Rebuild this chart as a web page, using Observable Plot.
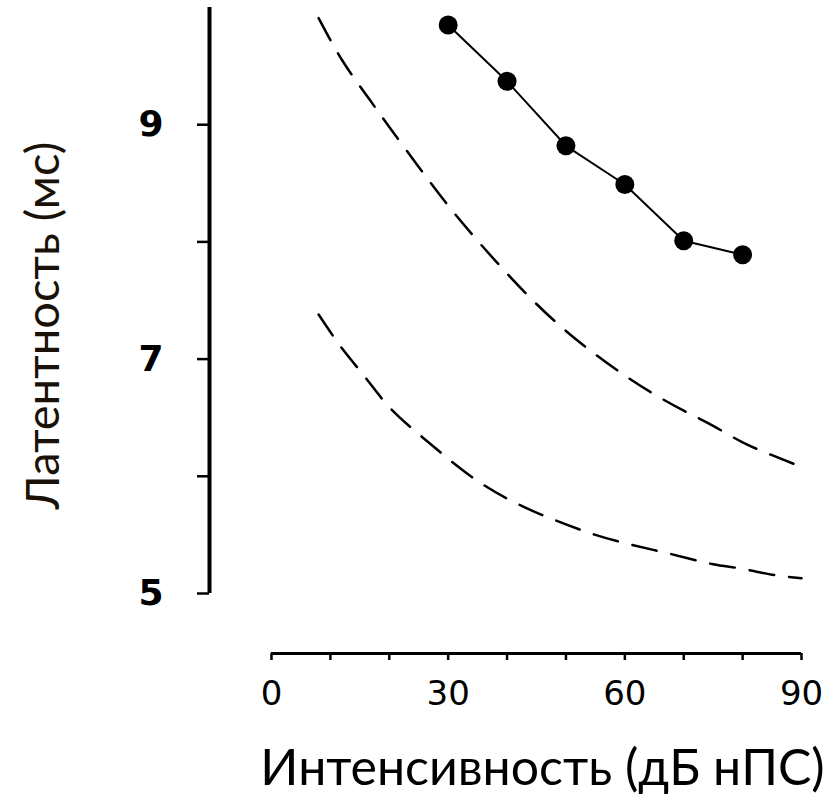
<!DOCTYPE html>
<html>
<head>
<meta charset="utf-8">
<script src="https://cdn.jsdelivr.net/npm/d3@7"></script>
<script src="https://cdn.jsdelivr.net/npm/@observablehq/plot@0.6"></script>
<style>
  html, body { margin: 0; padding: 0; background: #fff; }
</style>
</head>
<body>
<div id="chart"></div>
<script>
// Measured series (Интенсивность, дБ нПС → Латентность, мс)
const intensity = [30, 40, 50, 60, 70, 80];
const latency = [9.85, 9.37, 8.82, 8.49, 8.01, 7.89];

// Dashed reference curves
const curveX = [8, 12, 16, 20, 25, 30, 35, 40, 45, 50, 55, 60, 65, 70, 75, 80, 85, 90];
const upperCurve = [9.91, 9.55, 9.26, 8.98, 8.64, 8.31, 8.01, 7.73, 7.47, 7.24, 7.04, 6.86, 6.70, 6.56, 6.43, 6.29, 6.18, 6.08];
const lowerCurve = [7.38, 7.09, 6.84, 6.59, 6.36, 6.15, 5.96, 5.81, 5.69, 5.59, 5.50, 5.43, 5.37, 5.31, 5.25, 5.21, 5.16, 5.13];

// Axes
const xDomain = [0, 90];
const yDomain = [5, 10];
const xTicks = [0, 10, 20, 30, 40, 50, 60, 70, 80, 90];
const xTickLabels = [0, 30, 60, 90];
const yTicks = [5, 6, 7, 8, 9];
const yTickLabels = [5, 7, 9];
const xLabel = "Интенсивность (дБ нПС)";
const yLabel = "Латентность (мс)";

const measured = intensity.map((x, i) => ({x, y: latency[i]}));
const upper = curveX.map((x, i) => ({x, y: upperCurve[i]}));
const lower = curveX.map((x, i) => ({x, y: lowerCurve[i]}));

const chart = Plot.plot({
  width: 833,
  height: 796,
  marginLeft: 271,
  marginRight: 32,
  marginTop: 7,
  marginBottom: 203,
  x: {domain: xDomain},
  y: {domain: yDomain},
  style: {background: "#fff", color: "#000"},
  marks: [
    // y axis line + ticks (offset to the left of the data)
    Plot.ruleX([xDomain[0]], {y1: yDomain[0], y2: yDomain[1], dx: -62, strokeWidth: 4, stroke: "#000"}),
    Plot.axisY(yTicks, {
      tickSize: 12, dx: -62, tickPadding: 34, strokeWidth: 2.5,
      tickFormat: d => yTickLabels.includes(d) ? String(d) : "",
      fontSize: 36, fontWeight: "bold", fontFamily: "DejaVu Sans",
      label: null
    }),
    // x axis line + ticks (offset below the data)
    Plot.ruleY([yDomain[0]], {x1: xDomain[0], x2: xDomain[1], dy: 60, strokeWidth: 3, stroke: "#000"}),
    Plot.axisX(xTicks, {
      tickSize: 7, dy: 60, tickPadding: 20, strokeWidth: 2.5,
      tickFormat: d => xTickLabels.includes(d) ? String(d) : "",
      fontSize: 34, fontFamily: "DejaVu Sans",
      label: null
    }),
    // dashed curves
    Plot.line(upper, {x: "x", y: "y", stroke: "#000", strokeWidth: 2.5, strokeDasharray: "25,15", curve: "natural"}),
    Plot.line(lower, {x: "x", y: "y", stroke: "#000", strokeWidth: 2.5, strokeDasharray: "25,15", curve: "natural"}),
    // measured series
    Plot.line(measured, {x: "x", y: "y", stroke: "#000", strokeWidth: 2}),
    Plot.dot(measured, {x: "x", y: "y", r: 9.5, fill: "#000", stroke: "none"}),
    // axis titles
    Plot.text([xLabel], {frameAnchor: "bottom", dx: 6, dy: 175, lineAnchor: "middle", textAnchor: "middle",
      fontSize: 50, fontFamily: "Lato", fill: "#000"}),
    Plot.text([yLabel], {frameAnchor: "left", dx: -228, dy: 25, rotate: -90, lineAnchor: "middle", textAnchor: "middle",
      fontSize: 47, fontFamily: "Lato", fill: "#1a1208"})
  ]
});
document.getElementById("chart").appendChild(chart);
</script>
</body>
</html>
